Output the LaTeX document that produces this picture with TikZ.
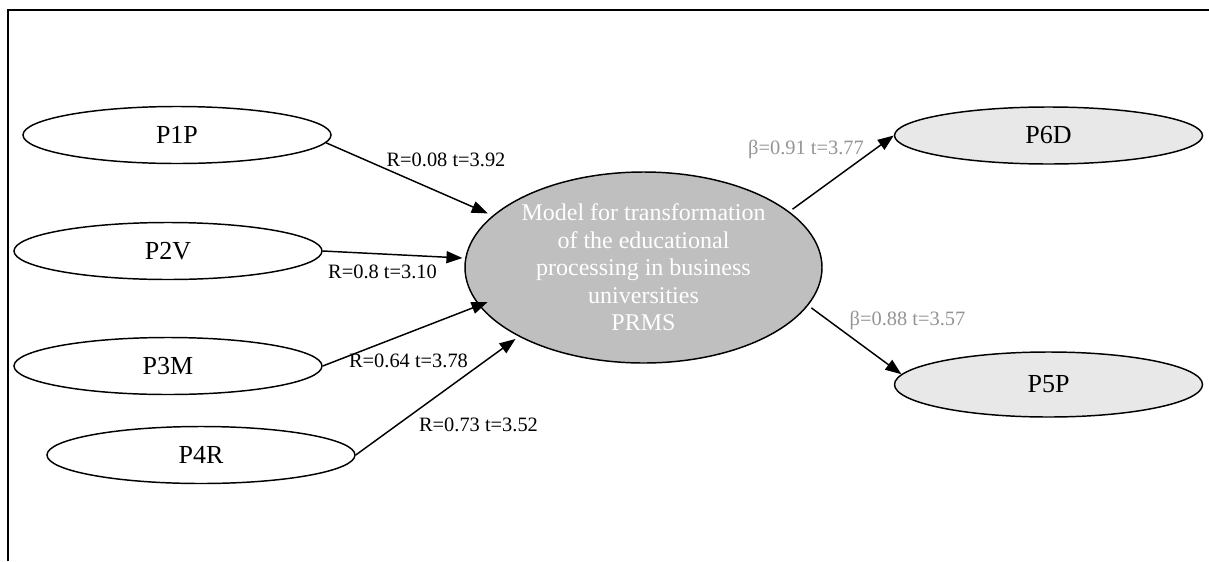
\documentclass[tikz,border=0pt]{standalone}
\usepackage{fontspec}
\setmainfont{Liberation Serif}
\usetikzlibrary{arrows.meta,shapes.geometric}
\tikzstyle{latent}=[ellipse,draw,line width=1.1pt,fill=white,minimum width=231pt,minimum height=42.75pt,inner sep=0pt,font=\fontsize{19.5}{22}\selectfont]
\tikzstyle{outcome}=[latent,fill=black!9]
\tikzstyle{model}=[ellipse,draw,line width=1.1pt,fill=black!25,minimum width=267.75pt,minimum height=143.25pt,inner sep=0pt,align=center,text=white,font=\fontsize{18}{20.6}\selectfont]
\tikzstyle{edge} = [draw,line width=1.1pt,-{Triangle[length=12pt,width=9pt]}]
\tikzstyle{weight} = [font=\fontsize{15.3}{17}\selectfont,inner sep=0pt]
\tikzstyle{betaweight} = [weight,text=black!42]

\begin{document}
\begin{tikzpicture}[x=0.75pt,y=-0.75pt]

    \useasboundingbox (0,0) rectangle (1209,561);
    \draw[line width=2pt] (8,561) -- (8,10) -- (1209,10);

     \foreach \x/\y/\name/\txt in {177/135/p1p/P1P, 168/251/p2v/P2V, 168/366/p3m/P3M, 201/455/p4r/P4R}
        \node[latent] (\name) at (\x,\y) {\txt};

    \node[outcome] (p6d) at (1048.5,135.5) {P6D};
    \node[outcome, minimum height=48.75pt] (p5p) at (1048.5,384.5) {P5P};

    \node[model] (prms) at (643.5,267.5) {Model for transformation\\ of the educational\\ processing in business\\ universities\\ PRMS};

    \foreach \source/\sa/\da/\gap/\lx/\ly/\weight in {p1p/-3/161.7/4/446/160/{R=0.08 t=3.92}, p2v/0/177.6/2/382.5/272/{R=0.8 t=3.10}, p3m/0/-167.75/-7/408.5/361/{R=0.64 t=3.78}, p4r/0/-151.4/3/478.5/425/{R=0.73 t=3.52}}
        \path[edge, shorten >=\gap pt] (\source.\sa) -- (prms.\da) node[weight] at (\lx,\ly) {\weight};

    \foreach \sa/\dest/\da/\lx/\ly/\weight in {21.4/p6d/west/806/149/{β=0.91 t=3.77}, -13.5/p5p/176/907.5/320/{β=0.88 t=3.57}}
        \path[edge, shorten <=3pt] (prms.\sa) -- (\dest.\da) node[betaweight] at (\lx,\ly) {\weight};

\end{tikzpicture}
\end{document}
